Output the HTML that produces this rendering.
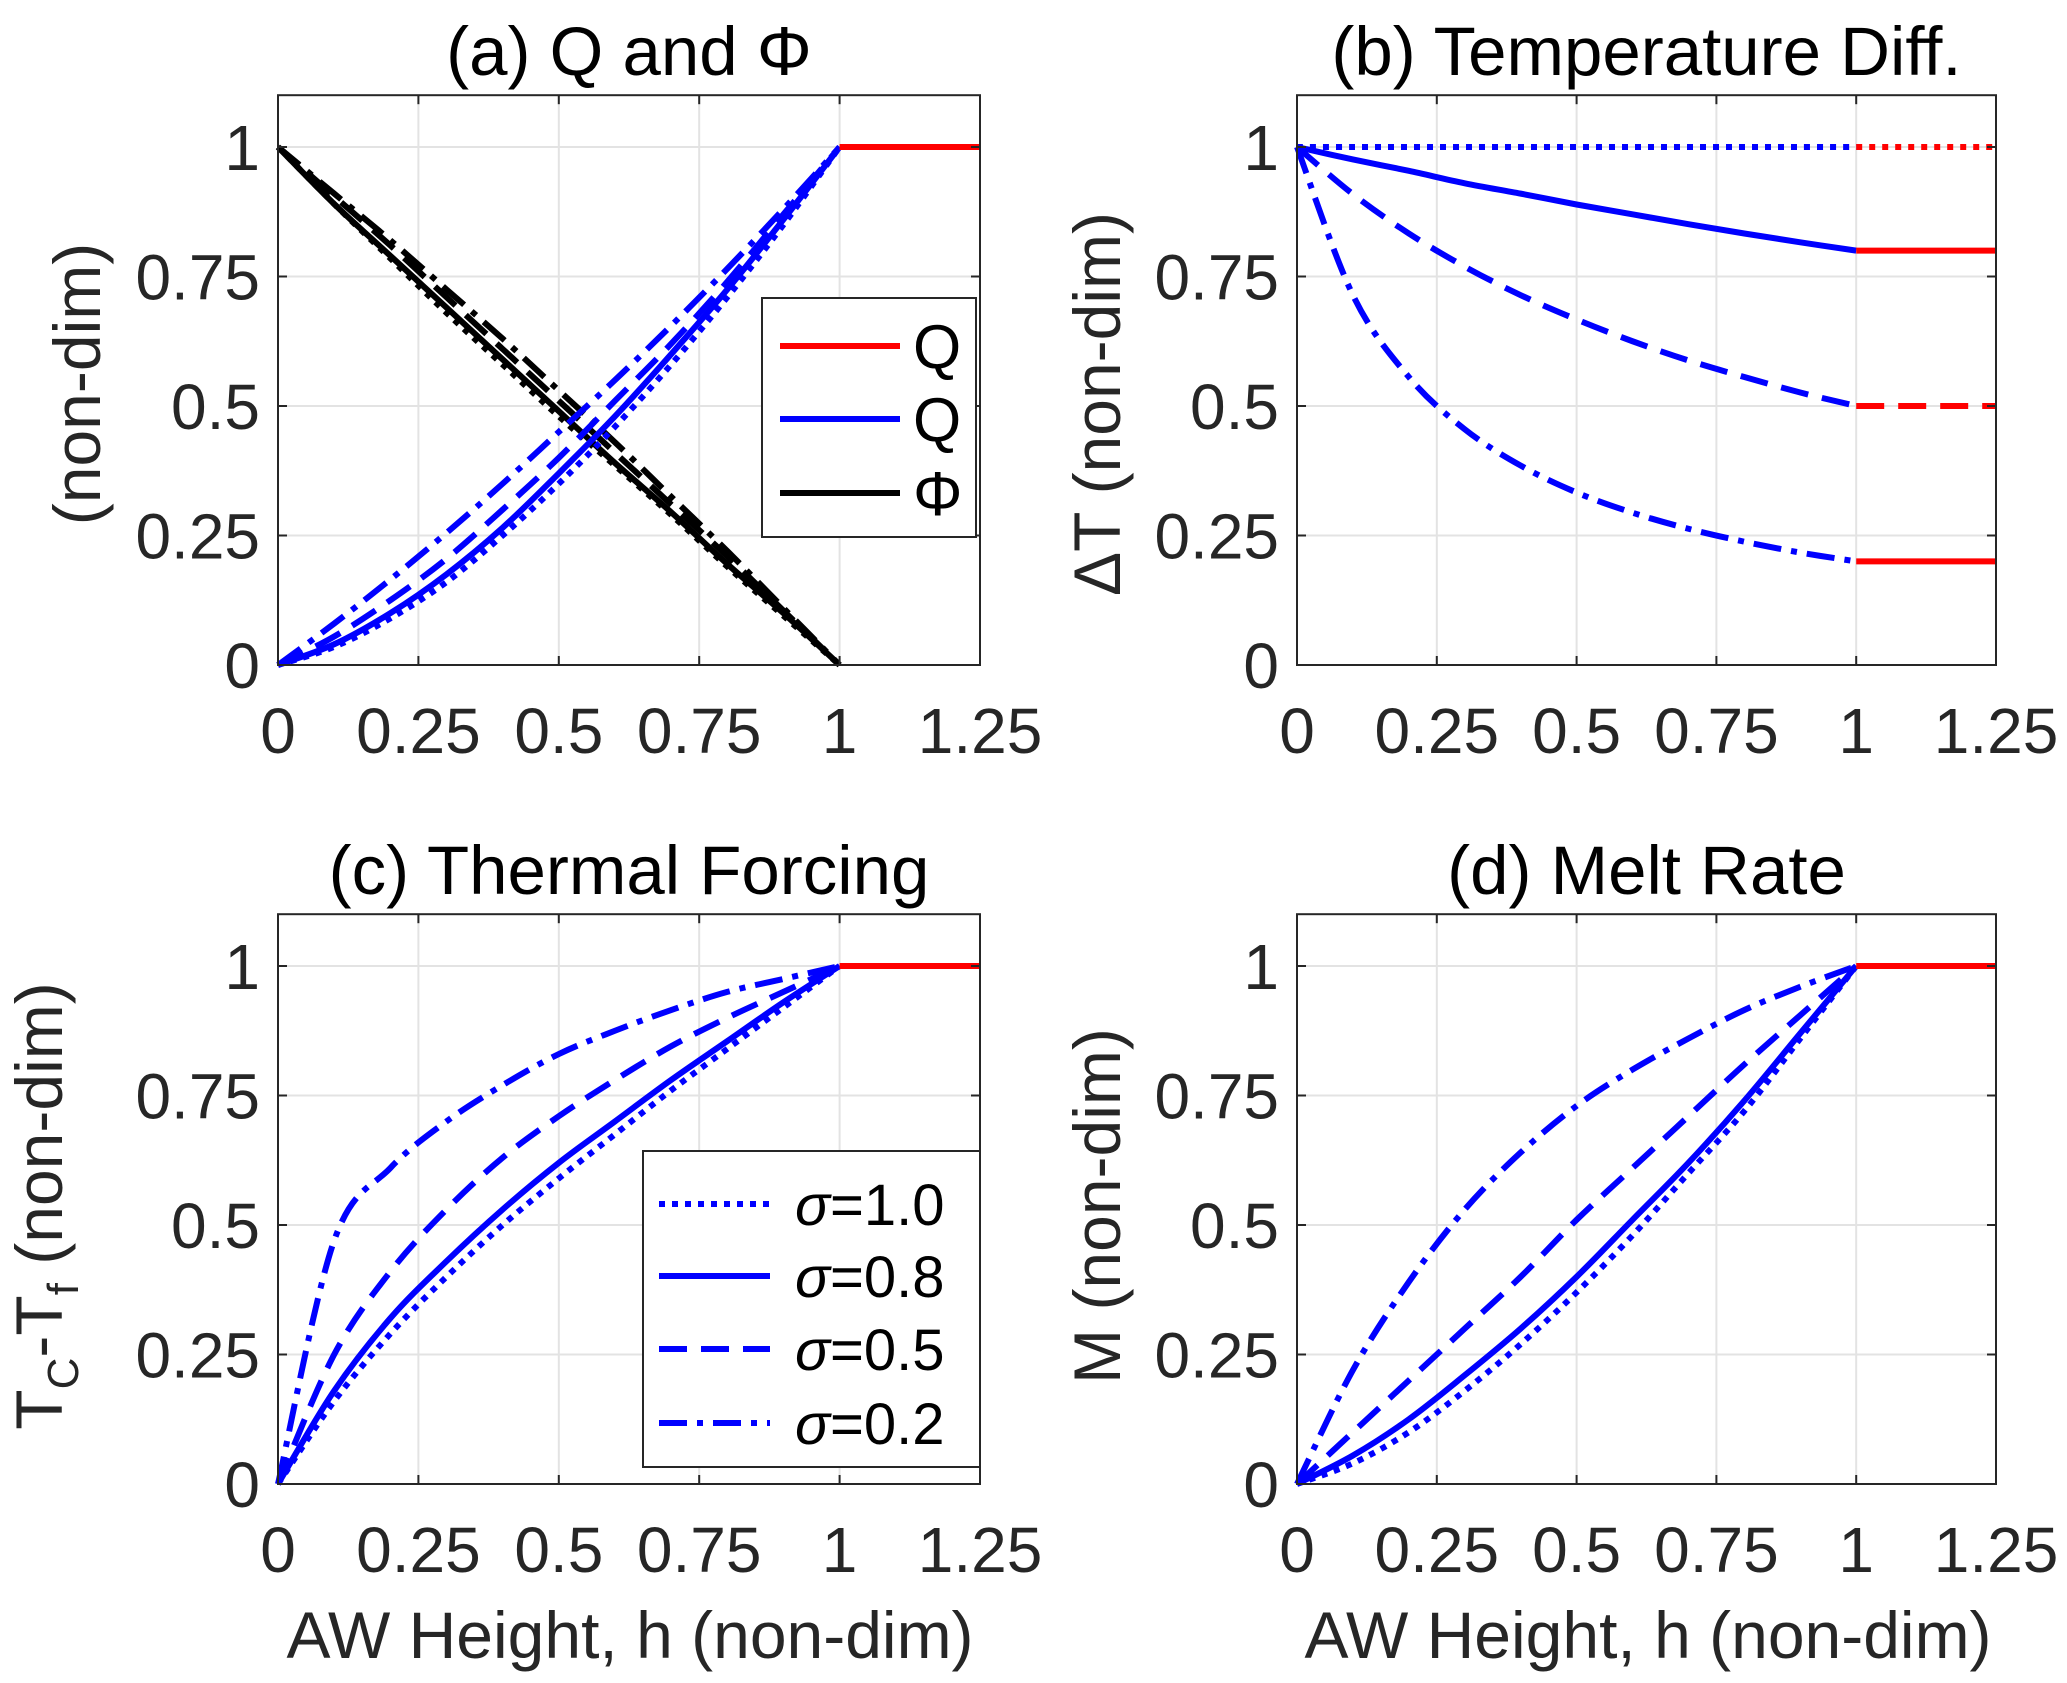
<!DOCTYPE html>
<html><head><meta charset="utf-8"><style>
html,body{margin:0;padding:0;background:#fff}
svg{display:block;font-family:"Liberation Sans",Arial,sans-serif}
</style></head><body>
<svg id="fig" width="2067" height="1683" viewBox="0 0 2067 1683"></svg>
<script>
const hVals=[0,0.1,0.2,0.3,0.4,0.5,0.6,0.7,0.8,0.9,1];
const xTicks=[0,0.25,0.5,0.75,1,1.25];
const xTickLabels=["0","0.25","0.5","0.75","1","1.25"];
const yTicks=[0,0.25,0.5,0.75,1];
const yTickLabels=["0","0.25","0.5","0.75","1"];
const sigmaLabels=["σ=1.0","σ=0.8","σ=0.5","σ=0.2"];
// panel a
const qS10=[0,0.035,0.09,0.16,0.25,0.35,0.46,0.58,0.71,0.85,1];
const qS08=[0,0.04,0.10,0.175,0.265,0.37,0.48,0.60,0.725,0.86,1];
const qS05=[0,0.055,0.125,0.205,0.30,0.40,0.51,0.62,0.74,0.87,1];
const qS02=[0,0.08,0.165,0.255,0.35,0.45,0.55,0.655,0.765,0.88,1];
const phiS10=[1,0.89,0.785,0.68,0.58,0.48,0.385,0.29,0.19,0.095,0];
const phiS08=[1,0.89,0.79,0.69,0.59,0.49,0.39,0.295,0.195,0.1,0];
const phiS05=[1,0.905,0.81,0.71,0.61,0.51,0.41,0.31,0.21,0.105,0];
const phiS02=[1,0.91,0.82,0.725,0.63,0.53,0.43,0.325,0.22,0.11,0];
// panel b
const dtS10=[1,1,1,1,1,1,1,1,1,1,1];
const dtS08=[1,0.976,0.954,0.93,0.91,0.889,0.87,0.851,0.833,0.816,0.8];
const dtS05=[1,0.909,0.833,0.769,0.714,0.667,0.625,0.588,0.556,0.526,0.5];
const dtS02=[1,0.714,0.556,0.455,0.385,0.333,0.294,0.263,0.238,0.217,0.2];
// panel c
const tfS10=[0,0.16,0.29,0.40,0.50,0.59,0.675,0.76,0.84,0.92,1];
const tfS08=[0,0.18,0.32,0.43,0.53,0.62,0.70,0.78,0.855,0.93,1];
const tfS05=[0,0.25,0.41,0.53,0.63,0.71,0.78,0.845,0.90,0.95,1];
const tfS02=[0,0.47,0.61,0.70,0.77,0.83,0.875,0.915,0.95,0.975,1];
// panel d
const mS10=[0,0.04,0.10,0.18,0.27,0.37,0.48,0.60,0.72,0.86,1];
const mS08=[0,0.055,0.125,0.21,0.30,0.40,0.51,0.62,0.74,0.87,1];
const mS05=[0,0.10,0.20,0.30,0.40,0.51,0.61,0.71,0.81,0.905,1];
const mS02=[0,0.22,0.39,0.53,0.64,0.73,0.80,0.86,0.915,0.96,1];
// red extension segments
const extX=[1,1.25];
const extA=[1];
const extB=[1,0.8,0.5,0.2];
const extC=[1];
const extD=[1];

const NS="http://www.w3.org/2000/svg";
const svg=document.getElementById('fig');
function el(tag,attrs,parent){const e=document.createElementNS(NS,tag);for(const k in attrs)e.setAttribute(k,attrs[k]);(parent||svg).appendChild(e);return e;}
const dashes=["6,7","","28,14","28,10,6,10"];
const TICKFS=64;

function panel(cfg){
  const g=el('g',{});
  
  
  const L=cfg.l,R=cfg.r,B=cfg.b,Y1=cfg.y1;
  const xs=v=>L+(R-L)*v/1.25;
  const ys=v=>B-(B-Y1)*v;
  const T=B-(B-Y1)*1.1;
  xTicks.forEach(t=>{const ln=el('line',{x1:xs(t),x2:xs(t),y1:T,y2:B,stroke:'#e3e3e3','stroke-width':2},g);
    });
  yTicks.forEach(t=>{const ln=el('line',{x1:L,x2:R,y1:ys(t),y2:ys(t),stroke:'#e3e3e3','stroke-width':2},g);
    });
  function path(arr,color,dash,nm){
    const pts=hVals.map((h,i)=>[xs(h),ys(arr[i])]);
    let d='M'+pts[0][0]+','+pts[0][1];
    for(let i=0;i<pts.length-1;i++){
      const p0=pts[Math.max(0,i-1)],p1=pts[i],p2=pts[i+1],p3=pts[Math.min(pts.length-1,i+2)];
      const c1=[p1[0]+(p2[0]-p0[0])/6,p1[1]+(p2[1]-p0[1])/6];
      const c2=[p2[0]-(p3[0]-p1[0])/6,p2[1]-(p3[1]-p1[1])/6];
      d+=` C${c1[0]},${c1[1]} ${c2[0]},${c2[1]} ${p2[0]},${p2[1]}`;
    }
    const p=el('path',{d:d,fill:'none',stroke:color,'stroke-width':6,'stroke-dasharray':dash},g);
    
  }
  cfg.series.forEach(s=>path(s.v,s.c,dashes[s.k],s.n));
  cfg.ext.forEach((v,i)=>{
    const ln=el('line',{x1:xs(extX[0]),x2:xs(extX[1]),y1:ys(v),y2:ys(v),stroke:'#ff0000','stroke-width':6,'stroke-dasharray':cfg.extDash?cfg.extDash[i]:''},g);
    
  });
  const bx=el('rect',{x:L,y:T,width:R-L,height:B-T,fill:'none',stroke:'#262626','stroke-width':2},g);
  
  xTicks.forEach((t,i)=>{
    el('line',{x1:xs(t),x2:xs(t),y1:B,y2:B-9,stroke:'#262626','stroke-width':2},g);
    el('line',{x1:xs(t),x2:xs(t),y1:T,y2:T+9,stroke:'#262626','stroke-width':2},g);
    const tx=el('text',{x:xs(t),y:B+88,'text-anchor':'middle','font-size':TICKFS,fill:'#262626'},g);
    tx.textContent=xTickLabels[i];
    
  });
  yTicks.forEach((t,i)=>{
    el('line',{x1:L,x2:L+9,y1:ys(t),y2:ys(t),stroke:'#262626','stroke-width':2},g);
    el('line',{x1:R,x2:R-9,y1:ys(t),y2:ys(t),stroke:'#262626','stroke-width':2},g);
    const tx=el('text',{x:L-18,y:ys(t)+23,'text-anchor':'end','font-size':TICKFS,fill:'#262626'},g);
    tx.textContent=yTickLabels[i];
    
  });
  const ti=el('text',{x:(L+R)/2,y:T-20,'text-anchor':'middle','font-size':69,fill:'#000'},g);
  ti.textContent=cfg.title;
  return {g,xs,ys,L,R,B,T};
}
const LA=278,RA=980,LB=1297,RB=1996,BT=665,YT1=147,BB=1484,YB1=966;
const blue='#0000ff',black='#000';
panel({name:'panel-a',l:LA,r:RA,b:BT,y1:YT1,title:'(a) Q and Φ',
  series:[{v:phiS10,c:black,k:0,n:'phi-s10'},{v:phiS08,c:black,k:1,n:'phi-s08'},{v:phiS05,c:black,k:2,n:'phi-s05'},{v:phiS02,c:black,k:3,n:'phi-s02'},
  {v:qS10,c:blue,k:0,n:'q-s10'},{v:qS08,c:blue,k:1,n:'q-s08'},{v:qS05,c:blue,k:2,n:'q-s05'},{v:qS02,c:blue,k:3,n:'q-s02'}],ext:extA});
panel({name:'panel-b',l:LB,r:RB,b:BT,y1:YT1,title:'(b) Temperature Diff.',
  series:[{v:dtS10,c:blue,k:0,n:'dt-s10'},{v:dtS08,c:blue,k:1,n:'dt-s08'},{v:dtS05,c:blue,k:2,n:'dt-s05'},{v:dtS02,c:blue,k:3,n:'dt-s02'}],
  ext:extB,extDash:[dashes[0],'',dashes[2],'']});
panel({name:'panel-c',l:LA,r:RA,b:BB,y1:YB1,title:'(c) Thermal Forcing',
  series:[{v:tfS10,c:blue,k:0,n:'tf-s10'},{v:tfS08,c:blue,k:1,n:'tf-s08'},{v:tfS05,c:blue,k:2,n:'tf-s05'},{v:tfS02,c:blue,k:3,n:'tf-s02'}],ext:extC});
panel({name:'panel-d',l:LB,r:RB,b:BB,y1:YB1,title:'(d) Melt Rate',
  series:[{v:mS10,c:blue,k:0,n:'m-s10'},{v:mS08,c:blue,k:1,n:'m-s08'},{v:mS05,c:blue,k:2,n:'m-s05'},{v:mS02,c:blue,k:3,n:'m-s02'}],ext:extD});

function ylab(x,y,html,nm){
  const t=el('text',{x:0,y:0,transform:`translate(${x},${y}) rotate(-90)`,'text-anchor':'middle','font-size':66,fill:'#262626'});
  t.innerHTML=html;
}
ylab(100,384,'(non-dim)','y-axis-title-a');
ylab(1120,404,'ΔT (non-dim)','y-axis-title-b');
ylab(62,1206,'T<tspan font-size="44" dy="16">C</tspan><tspan dy="-16">-T</tspan><tspan font-size="44" dy="16">f</tspan><tspan dy="-16"> (non-dim)</tspan>','y-axis-title-c');
ylab(1120,1206,'M (non-dim)','y-axis-title-d');
[[630,'x-axis-title-c'],[1648,'x-axis-title-d']].forEach(([x,nm])=>{
  const t=el('text',{x:x,y:1658,'text-anchor':'middle','font-size':66,fill:'#262626'});
  t.textContent='AW Height, h (non-dim)';
});
const lgA=el('g',{});
el('rect',{x:762,y:298,width:214,height:239,fill:'#fff',stroke:'#262626','stroke-width':2},lgA);
[['#ff0000','Q',346],['#0000ff','Q',419],['#000','Φ',493]].forEach(([c,l,y])=>{
  const e=el('g',{},lgA);
  el('line',{x1:780,x2:900,y1:y,y2:y,stroke:c,'stroke-width':6},e);
  const t=el('text',{x:913,y:y+22,'font-size':62,fill:'#000'},e);t.textContent=l;
});
const lgC=el('g',{});
el('rect',{x:643,y:1151,width:337,height:316,fill:'#fff',stroke:'#262626','stroke-width':2},lgC);
[1204,1276,1349,1423].forEach((y,i)=>{
  const e=el('g',{},lgC);
  el('line',{x1:659,x2:770,y1:y,y2:y,stroke:blue,'stroke-width':6,'stroke-dasharray':dashes[i]},e);
  const t=el('text',{x:795,y:y+21,'font-size':58,fill:'#000'},e);
  t.innerHTML='<tspan font-style="italic">σ</tspan>'+sigmaLabels[i].slice(1);
});
</script>
</body></html>
